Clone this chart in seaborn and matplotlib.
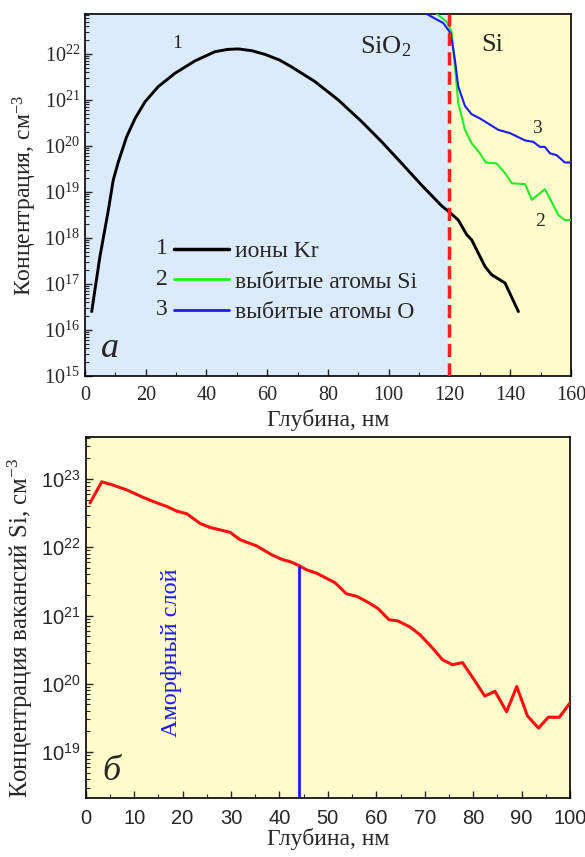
import numpy as np
import pandas as pd
import matplotlib
matplotlib.use("Agg")
import matplotlib.pyplot as plt
import matplotlib.ticker as mticker
import seaborn as sns

# ---------------- data (panel a) ----------------
kr_depth = [2.2, 4.9, 7.7, 9.3, 11.0, 13.7, 16.5, 19.75, 24.1, 29.6, 36.2, 42.8, 47.0, 50.5,
            55.0, 59.3, 64.0, 68.0, 75.7, 83.4, 91.1, 97.7, 104.3, 110.8, 117.4, 120.2,
            122.9, 125.7, 127.3, 129.5, 131.7, 133.9, 138.3, 142.7]
kr_log = [16.40, 17.59, 18.61, 19.26, 19.66, 20.20, 20.60, 20.96, 21.29, 21.58, 21.85, 22.05,
          22.10, 22.11, 22.07, 21.99, 21.87, 21.72, 21.40, 21.00, 20.53, 20.09, 19.62, 19.15,
          18.70, 18.55, 18.39, 18.07, 17.96, 17.67, 17.38, 17.20, 17.02, 16.40]

si_depth = [113.0, 115.8, 119.1, 120.7, 121.8, 122.9, 125.1, 127.3, 130.0, 132.0, 135.5, 138.3,
            140.5, 144.9, 147.1, 151.4, 153.6, 155.8, 158.0, 159.7]
si_log = [23.10, 22.87, 22.70, 22.48, 21.72, 20.93, 20.35, 20.06, 19.84, 19.64, 19.62, 19.41,
          19.19, 19.17, 18.83, 19.06, 18.79, 18.50, 18.39, 18.39]

o_depth = [110.0, 112.5, 118.0, 120.4, 121.8, 122.9, 125.1, 127.3, 130.0, 136.1, 139.9, 144.9,
           147.6, 149.8, 151.4, 153.1, 155.3, 158.0, 159.7]
o_log = [23.05, 22.87, 22.67, 22.45, 21.87, 21.29, 20.87, 20.69, 20.60, 20.35, 20.28, 20.12,
         20.09, 19.98, 19.98, 19.84, 19.80, 19.64, 19.64]

legend_labels = ["ионы Kr", "выбитые атомы Si", "выбитые атомы O"]
legend_numbers = ["1", "2", "3"]
interface_depth = 120

# ---------------- data (panel b) ----------------
vac_depth = [0.9, 3.3, 5.7, 8.5, 11.9, 14.7, 16.7, 18.8, 20.9, 23.6, 25.7, 29.8, 31.9, 35.3,
             38.4, 40.6, 42.2, 44.1, 45.6, 47.7, 51.5, 53.8, 56.0, 58.4, 60.4, 62.6, 64.5,
             67.0, 69.0, 71.4, 73.7, 75.7, 77.8, 80.0, 82.4, 84.5, 86.9, 89.0, 91.2, 93.5,
             95.5, 97.8, 100.0]
vac_log = [22.65, 22.96, 22.91, 22.84, 22.73, 22.65, 22.60, 22.53, 22.49, 22.35, 22.29, 22.22,
           22.11, 22.02, 21.89, 21.82, 21.79, 21.73, 21.67, 21.62, 21.48, 21.32, 21.28, 21.19,
           21.10, 20.94, 20.92, 20.83, 20.72, 20.54, 20.35, 20.28, 20.31, 20.08, 19.82, 19.89,
           19.59, 19.96, 19.53, 19.35, 19.51, 19.51, 19.72]
amorphous_depth = 44.0

# ---------------- style ----------------
sns.set_style("ticks")
plt.rcParams["font.family"] = ["Liberation Serif", "DejaVu Serif"]
plt.rcParams["mathtext.default"] = "regular"

BLUE_BG = "#dcebfb"
YELLOW_BG = "#fffccc"
TICK_FS = 14.5

fig = plt.figure(figsize=(5.85, 8.57), dpi=100)
ax1 = fig.add_axes([0.1453, 0.5613, 0.8307, 0.4224])
ax2 = fig.add_axes([0.1465, 0.0688, 0.8279, 0.4212])

def pow_fmt(v, pos):
    if v <= 0:
        return ""
    e = int(round(np.log10(v)))
    if abs(np.log10(v) - e) > 1e-6:
        return ""
    return r"$\mathregular{10^{%d}}$" % e

def minor_log_ticks(lo, hi):
    return [m * 10.0 ** e for e in range(lo, hi) for m in range(2, 10)]

# ---------- panel a ----------
ax1.set_xlim(0, 160)
ax1.set_ylim(1e15, 10 ** 22.87)
ax1.set_yscale("log")
ax1.axvspan(0, interface_depth, color=BLUE_BG, zorder=0, lw=0)
ax1.axvspan(interface_depth, 160, color=YELLOW_BG, zorder=0, lw=0)

df_kr = pd.DataFrame({"x": kr_depth, "y": np.power(10.0, kr_log)})
df_si = pd.DataFrame({"x": si_depth, "y": np.power(10.0, si_log)})
df_o = pd.DataFrame({"x": o_depth, "y": np.power(10.0, o_log)})
sns.lineplot(data=df_kr, x="x", y="y", ax=ax1, color="black", lw=2.1, sort=False,
             label=legend_labels[0], zorder=4)
sns.lineplot(data=df_si, x="x", y="y", ax=ax1, color="#22ee22", lw=1.5, sort=False,
             label=legend_labels[1], zorder=3)
sns.lineplot(data=df_o, x="x", y="y", ax=ax1, color="#1a1aff", lw=1.5, sort=False,
             label=legend_labels[2], zorder=3)
ax1.axvline(interface_depth, color="#ff2020", lw=2.5, ls=(0, (3.8, 1.8)), zorder=5)

ax1.xaxis.set_major_locator(mticker.MultipleLocator(20))
ax1.xaxis.set_minor_locator(mticker.MultipleLocator(10))
ax1.yaxis.set_major_locator(mticker.FixedLocator([10.0 ** e for e in range(15, 23)]))
ax1.yaxis.set_minor_locator(mticker.FixedLocator(minor_log_ticks(15, 23)))
ax1.yaxis.set_minor_formatter(mticker.NullFormatter())
ax1.yaxis.set_major_formatter(mticker.FuncFormatter(pow_fmt))
ax1.tick_params(which="both", direction="in", top=False, right=False, labelsize=TICK_FS)
ax1.tick_params(axis="x", which="major", pad=7)
ax1.tick_params(which="major", length=5, width=1)
ax1.tick_params(which="minor", length=3, width=0.8)
ax1.set_xlabel("Глубина, нм", fontsize=17, labelpad=3)
ax1.set_ylabel(r"Концентрация, см$^{-3}$", fontsize=17, labelpad=4)

ax1.text(30.2, 10 ** 22.23, "1", fontsize=14, ha="center", va="center")
ax1.text(99.1, 10 ** 22.15, r"SiO$_2$", fontsize=19, ha="center", va="center")
ax1.text(134.2, 10 ** 22.2, "Si", fontsize=19, ha="center", va="center")
ax1.text(148.7, 10 ** 20.38, "3", fontsize=14, ha="center", va="center")
ax1.text(149.8, 10 ** 18.35, "2", fontsize=14, ha="center", va="center")
ax1.text(0.051, 0.052, "а", transform=ax1.transAxes, fontsize=26, style="italic",
         ha="center", va="baseline")

leg = ax1.legend(loc="center left", bbox_to_anchor=(0.183, 0.26), frameon=False,
                 fontsize=17, handlelength=2.33, handletextpad=0.25, labelspacing=0.38,
                 borderpad=0, borderaxespad=0)
leg.get_lines()[0].set_linewidth(2.5)
leg.get_lines()[1].set_linewidth(2.0)
leg.get_lines()[2].set_linewidth(2.0)

# ---------- panel b ----------
ax2.set_xlim(0, 100)
ax2.set_ylim(10 ** 18.326, 10 ** 23.615)
ax2.set_yscale("log")
ax2.set_facecolor(YELLOW_BG)
df_vac = pd.DataFrame({"x": vac_depth, "y": np.power(10.0, vac_log)})
sns.lineplot(data=df_vac, x="x", y="y", ax=ax2, color="#ff1010", lw=2.2, sort=False,
             legend=False, zorder=3)
vac_at_amorph = 10 ** np.interp(amorphous_depth, vac_depth, vac_log)
ax2.vlines(amorphous_depth, ax2.get_ylim()[0], vac_at_amorph, color="#1a1aff", lw=2, zorder=4)
ax2.text(17.8, 10 ** 20.45, "Аморфный слой", rotation=90, color="#1a1aff", fontsize=17.5,
         ha="center", va="center")
ax2.text(0.054, 0.05, "б", transform=ax2.transAxes, fontsize=26, style="italic",
         ha="center", va="baseline")

ax2.xaxis.set_major_locator(mticker.MultipleLocator(10))
ax2.xaxis.set_minor_locator(mticker.MultipleLocator(5))
ax2.yaxis.set_major_locator(mticker.FixedLocator([10.0 ** e for e in range(18, 24)]))
ax2.yaxis.set_minor_locator(mticker.FixedLocator(minor_log_ticks(18, 24)))
ax2.yaxis.set_minor_formatter(mticker.NullFormatter())
ax2.yaxis.set_major_formatter(mticker.FuncFormatter(pow_fmt))
ax2.tick_params(which="both", direction="in", top=False, right=False, labelsize=TICK_FS)
ax2.tick_params(axis="x", which="major", pad=8)
ax2.tick_params(which="major", length=5, width=1)
ax2.tick_params(which="minor", length=3, width=0.8)
for lab in ax2.get_xticklabels() + ax2.get_yticklabels():
    lab.set_family(["Liberation Sans", "DejaVu Sans"])
ax2.set_xlabel("Глубина, нм", fontsize=17, labelpad=0)
ax2.set_ylabel(r"Концентрация вакансий Si, см$^{-3}$", fontsize=17.8)
ax2.yaxis.set_label_coords(-0.104, 0.47)

for ax in (ax1, ax2):
    for s in ax.spines.values():
        s.set_linewidth(1.2)
        s.set_color("black")

# numbers in front of legend lines
fig.canvas.draw()
inv = ax1.transAxes.inverted()
for line, num in zip(leg.get_lines(), legend_numbers):
    bb = line.get_window_extent(fig.canvas.get_renderer())
    xa, ya = inv.transform((bb.x0 - 6, (bb.y0 + bb.y1) / 2))
    ax1.text(xa, ya, num, transform=ax1.transAxes, fontsize=17, ha="right", va="center")

fig.savefig("out.png", dpi=100)
